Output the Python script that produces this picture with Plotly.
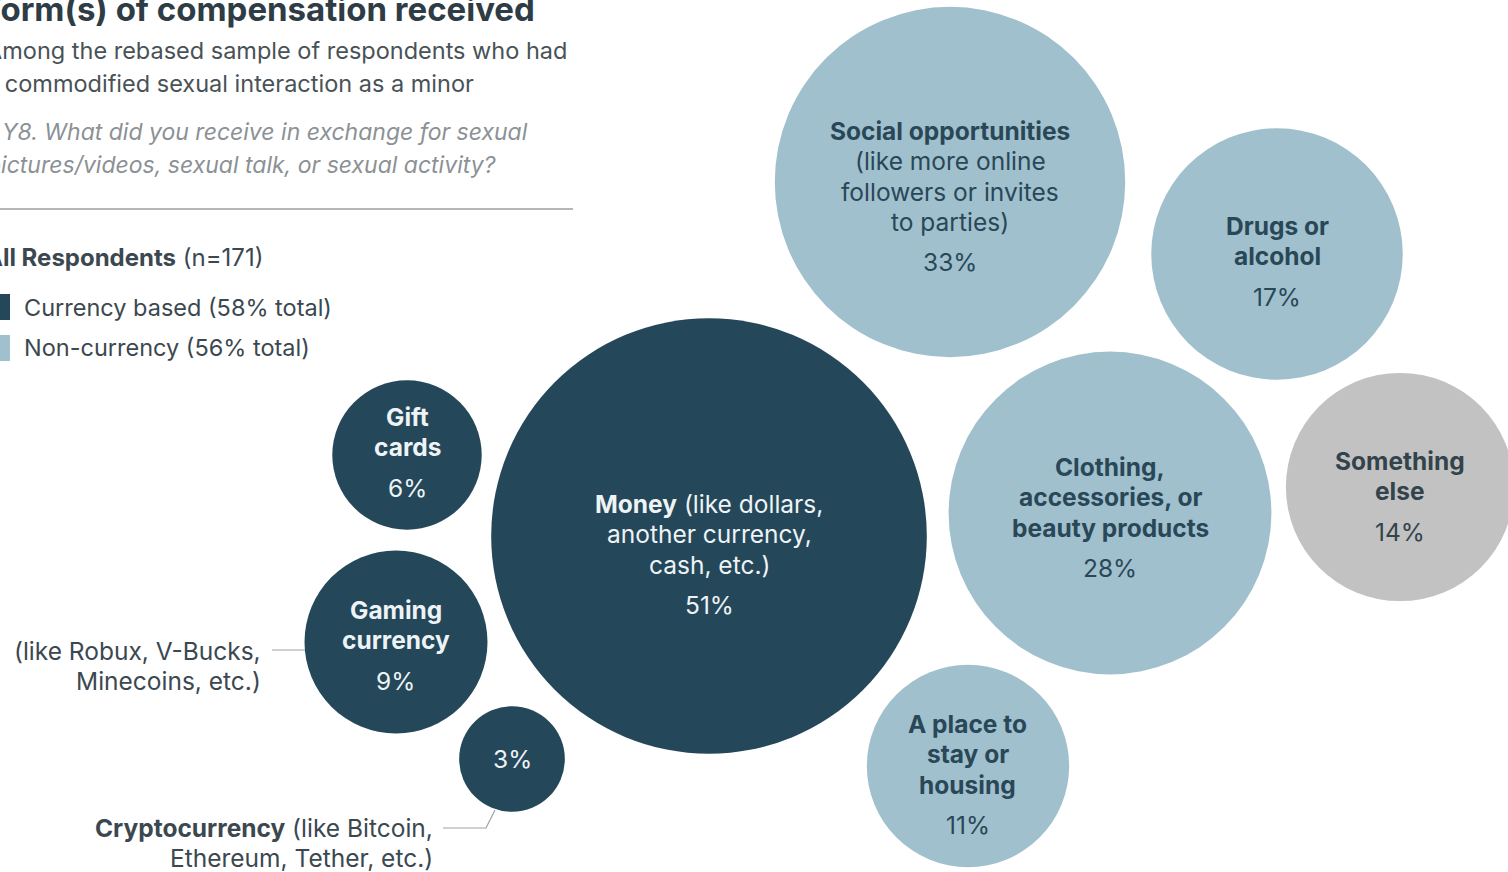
import numpy as np
import plotly.graph_objects as go

# ---- data -------------------------------------------------------------
categories = [
    "Money", "Social opportunities", "Clothing, accessories, or beauty products",
    "Drugs or alcohol", "Something else", "A place to stay or housing",
    "Gaming currency", "Gift cards", "Cryptocurrency",
]
values = [51, 33, 28, 17, 14, 11, 9, 6, 3]
groups = ["currency", "non", "non", "non", "other", "non", "currency", "currency", "currency"]

legend_labels = ["Currency based (58% total)", "Non-currency (56% total)"]
sample_label = "All Respondents"
sample_n = "(n=171)"

# ---- layout of the packed bubbles (pixel space) ------------------------
W, H = 1508, 872
centers = {
    "Money": (709, 536),
    "Social opportunities": (950, 182),
    "Clothing, accessories, or beauty products": (1110, 513),
    "Drugs or alcohol": (1277, 254),
    "Something else": (1400, 487),
    "A place to stay or housing": (968, 766),
    "Gaming currency": (396, 642),
    "Gift cards": (407, 455),
    "Cryptocurrency": (512, 759),
}
# text lines drawn inside each bubble, and y of first line
inner_text = {
    "Money": (["<b>Money</b> (like dollars,", "another currency,", "cash, etc.)"], 504),
    "Social opportunities": (["<b>Social opportunities</b>", "(like more online",
                              "followers or invites", "to parties)"], 131),
    "Clothing, accessories, or beauty products": (["<b>Clothing,</b>", "<b>accessories, or</b>",
                                                   "<b>beauty products</b>"], 467),
    "Drugs or alcohol": (["<b>Drugs or</b>", "<b>alcohol</b>"], 226),
    "Something else": (["<b>Something</b>", "<b>else</b>"], 461),
    "A place to stay or housing": (["<b>A place to</b>", "<b>stay or</b>", "<b>housing</b>"], 724),
    "Gaming currency": (["<b>Gaming</b>", "<b>currency</b>"], 610),
    "Gift cards": (["<b>Gift</b>", "<b>cards</b>"], 417),
    "Cryptocurrency": ([], 759),
}

DARK = "#24475a"
LIGHT = "#9fc0cc"
GRAY = "#c2c2c2"
fill = {"currency": DARK, "non": LIGHT, "other": GRAY}
txt = {"currency": "#eef3f5", "non": "#2a4758", "other": "#33434c"}
FONT = "Inter"
BUBBLE_FS = 24.5
LINE = 30.3
PCT_GAP = 40.5
PX_PER_SQRT = 30.5  # bubble radius in px per sqrt(percent)

fig = go.Figure()

xs = [centers[c][0] for c in categories]
ys = [centers[c][1] for c in categories]
fig.add_trace(go.Scatter(
    x=xs, y=ys, mode="markers",
    marker=dict(
        # area sizing: rendered radius = sqrt(value / (2 * sizeref))
        size=values, sizemode="area", sizeref=1.0 / (2 * PX_PER_SQRT ** 2),
        color=[fill[g] for g in groups], line=dict(width=0), opacity=1,
    ),
    hovertext=[f"{c}: {v}%" for c, v in zip(categories, values)],
    hoverinfo="text", showlegend=False,
))

def px(x):
    return x / W

def py(y):
    return 1 - y / H

ann = []

def label(x, y, text, size=BUBBLE_FS, color="#2a4758", anchor="center", italic=False):
    if italic:
        text = f"<i>{text}</i>"
    ann.append(dict(
        x=px(x), y=py(y), xref="paper", yref="paper", text=text, showarrow=False,
        xanchor=anchor, yanchor="middle", align=anchor,
        font=dict(family=FONT, size=size, color=color),
    ))

# bubble labels
for c, v, g in zip(categories, values, groups):
    lines, y0 = inner_text[c]
    cx = centers[c][0]
    for i, ln in enumerate(lines):
        label(cx, y0 + i * LINE, ln, color=txt[g])
    ypct = y0 + (len(lines) - 1) * LINE + PCT_GAP if lines else y0
    label(cx, ypct, f"{v}%", color=txt[g])

# outside callouts for the small currency bubbles
OUT = "#3b4850"
label(263, 651, "(like Robux, V-Bucks,", color=OUT, anchor="right")
label(263, 681, "Minecoins, etc.)", color=OUT, anchor="right")
label(435, 828, "<b>Cryptocurrency</b> (like Bitcoin,", color=OUT, anchor="right")
label(435, 858, "Ethereum, Tether, etc.)", color=OUT, anchor="right")

shapes = [
    dict(type="line", xref="x", yref="y", x0=272, y0=650, x1=305, y1=650,
         line=dict(color="#9aa3a8", width=1.2)),
    dict(type="path", xref="x", yref="y", path="M 443 828 L 486 828 L 495 810",
         line=dict(color="#9aa3a8", width=1.2)),
    dict(type="line", xref="x", yref="y", x0=0, y0=209, x1=573, y1=209,
         line=dict(color="#9a9fa2", width=1.5)),
    dict(type="rect", xref="x", yref="y", x0=-4, y0=294, x1=10, y1=320,
         fillcolor=DARK, line=dict(width=0)),
    dict(type="rect", xref="x", yref="y", x0=-4, y0=335, x1=10, y1=361,
         fillcolor=LIGHT, line=dict(width=0)),
]

# header text block (runs off the left edge of the canvas)
label(-20, 9, "<b>Form(s) of compensation received</b>", size=33, color="#2e3c45", anchor="left")
label(-16, 50, "Among the rebased sample of respondents who had", size=23.5, color="#485257", anchor="left")
label(-17, 84, "a commodified sexual interaction as a minor", size=23.5, color="#485257", anchor="left")
label(0, 132, "Y8. What did you receive in exchange for sexual", size=23, color="#8b9195", anchor="left", italic=True)
label(-16, 165, "pictures/videos, sexual talk, or sexual activity?", size=23, color="#8b9195", anchor="left", italic=True)
label(-17, 257, f"<b>{sample_label}</b> {sample_n}", size=24, color="#3b4850", anchor="left")
label(22, 307, legend_labels[0], size=23.5, color="#3b4850", anchor="left")
label(22, 348, legend_labels[1], size=23.5, color="#3b4850", anchor="left")

fig.update_layout(
    width=W, height=H, margin=dict(l=0, r=0, t=0, b=0),
    paper_bgcolor="white", plot_bgcolor="white",
    xaxis=dict(range=[0, W], visible=False, fixedrange=True),
    yaxis=dict(range=[H, 0], visible=False, fixedrange=True),
    annotations=ann, shapes=shapes, showlegend=False,
)

fig.write_html("out.html")
